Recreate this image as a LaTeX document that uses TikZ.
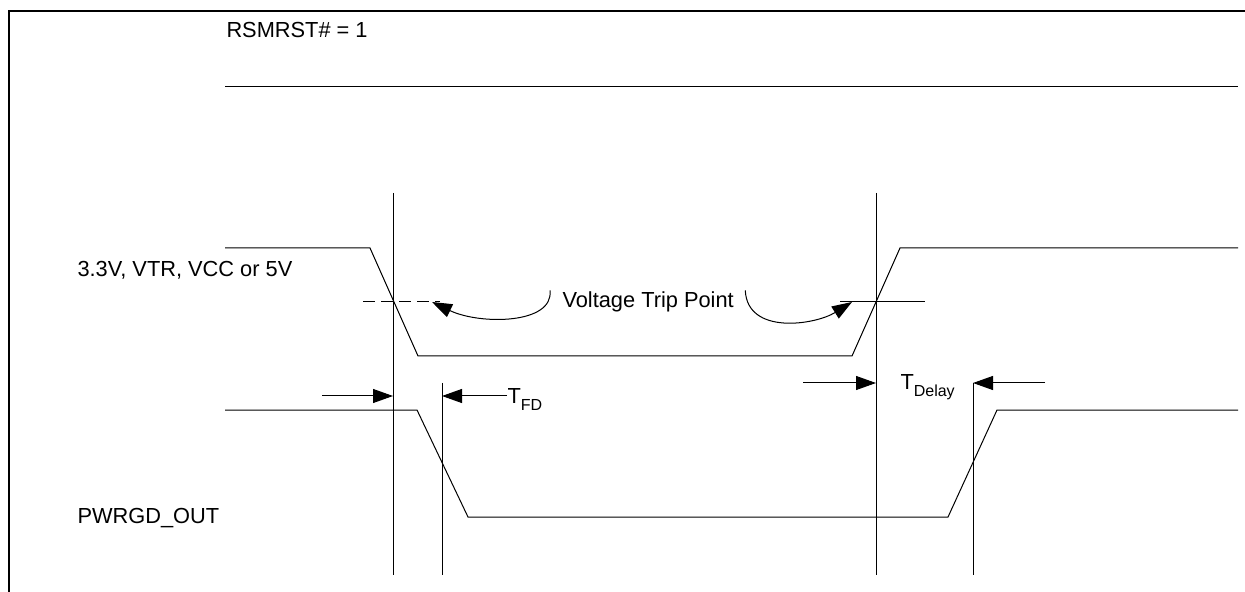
\documentclass[tikz,border=0pt]{standalone}
\usepackage{fontspec}
\setmainfont{Liberation Sans}
\usetikzlibrary{arrows.meta}
\tikzset{
  tip/.style={-{Triangle[length=10pt,width=7pt]}},
  lbl/.style={inner sep=0pt, anchor=base west, font=\fontsize{10.9}{13}\selectfont}
}
\newcommand{\lowsub}[1]{\raisebox{-3.5pt}{\fontsize{8}{9}\selectfont #1}}

\begin{document}
\begin{tikzpicture}[x=0.5pt,y=-0.5pt,line width=0.5pt]
\useasboundingbox (0,0) rectangle (1245,592);
\draw[line width=1pt] (8.5,592) -- (8.5,11) -- (1245,11);

\node[lbl] (R) at (226,38) {RSMRST\# = 1};
\draw (225,87) -- (1238,87);

\node[lbl] (V) at (77,277) {3.3V, VTR, VCC or 5V};
\node[lbl] (P) at (77,523) {PWRGD\_OUT};

\draw (225,248) -- (370,248) -- (418,356) -- (852,356) -- (900,248) -- (1238,248);
\draw (225,410) -- (417,410) -- (468,517) -- (948,517) -- (997,410) -- (1238,410);

\coordinate (A1) at (393,193);
\coordinate (A2) at (393,575);
\coordinate (B1) at (442,383);
\coordinate (B2) at (442,575);
\coordinate (C1) at (876,193);
\coordinate (C2) at (876,575);
\coordinate (D1) at (973,383);
\coordinate (D2) at (973,575);
\draw (A1) -- (A2);
\draw (B1) -- (B2);
\draw (C1) -- (C2);
\draw (D1) -- (D2);

\draw[dash pattern=on 6pt off 3pt] (363,302) -- (440,302);
\draw (840,302) -- (925,302);

\node[lbl] (T) at (562,308) {Voltage Trip Point};
\coordinate (t1) at (432,302);
\coordinate (t2) at (852,302);
\draw[tip] (T.west) ++(-12,-12) .. controls +(4,34) and (480,325) .. (t1);
\draw[tip] (T.east) ++(11,-12) .. controls +(2,45) and (815,325) .. (t2);

\coordinate (a) at (322,396);
\coordinate (b) at (393,396);
\coordinate (c) at (442,396);
\node[lbl] (FD) at (507,403) {T\lowsub{FD}};
\draw[tip] (a) -- (b);
\draw[tip] (FD.west |- c) -- (c);

\coordinate (d) at (803,383);
\coordinate (e) at (876,383);
\coordinate (f) at (973,383);
\coordinate (g) at (1045,383);
\node[lbl] (DL) at (900,390) {T\lowsub{Delay}};
\draw[tip] (d) -- (e);
\draw[tip] (g) -- (f);
\end{tikzpicture}
\end{document}
